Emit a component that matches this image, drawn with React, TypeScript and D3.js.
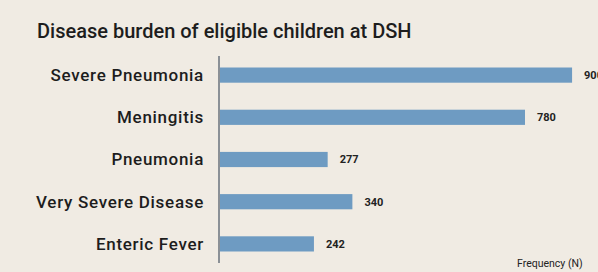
import * as d3 from 'd3';
import React from 'react';

const categories = ['Severe Pneumonia', 'Meningitis', 'Pneumonia', 'Very Severe Disease', 'Enteric Fever'];
const values = [900, 780, 277, 340, 242];
const valueLabels = ['900', '780', '277', '340', '242'];
const title = 'Disease burden of eligible children at DSH';
const axisTitle = 'Frequency (N)';

export default function App() {
  const width = 598;
  const height = 272;
  const margin = { left: 219, top: 54, bottom: 10 };

  const x = d3.scaleLinear().domain([0, 780]).range([margin.left, margin.left + 306]);
  const y = d3
    .scaleBand()
    .domain(categories)
    .range([margin.top, margin.top + 5 * 42.2])
    .paddingInner(0.64)
    .paddingOuter(0.32);

  return (
    <svg
      width={width}
      height={height}
      style={{ position: 'absolute', left: 0, top: 0, background: '#f0ebe3' }}
    >
      <rect x={0} y={0} width={width} height={height} fill="#f0ebe3" />
      <text x={37} y={38} fontFamily="Roboto" fontSize={20} fontWeight={500} fill="#1d1d1d">
        {title}
      </text>
      {categories.map((c, i) => (
        <g key={c}>
          <rect
            x={x(0)}
            y={y(c)}
            width={x(values[i]) - x(0)}
            height={y.bandwidth()}
            fill="#6e9bc2"
          />
          <text
            x={204}
            y={(y(c) || 0) + y.bandwidth() / 2}
            dy="0.35em"
            textAnchor="end"
            fontFamily="Roboto"
            fontSize={17}
            fontWeight={500}
            letterSpacing={0.7}
            fill="#1d1d1d"
          >
            {c}
          </text>
          <text
            x={x(values[i]) + 12}
            y={(y(c) || 0) + y.bandwidth() / 2}
            dy="0.35em"
            fontFamily="Roboto"
            fontSize={11}
            fontWeight={700}
            fill="#222"
          >
            {valueLabels[i]}
          </text>
        </g>
      ))}
      <line x1={x(0)} x2={x(0)} y1={56} y2={263} stroke="#8b9096" strokeWidth={2} />
      <text x={517} y={267} fontFamily="Roboto" fontSize={10.5} fill="#222">
        {axisTitle}
      </text>
    </svg>
  );
}
